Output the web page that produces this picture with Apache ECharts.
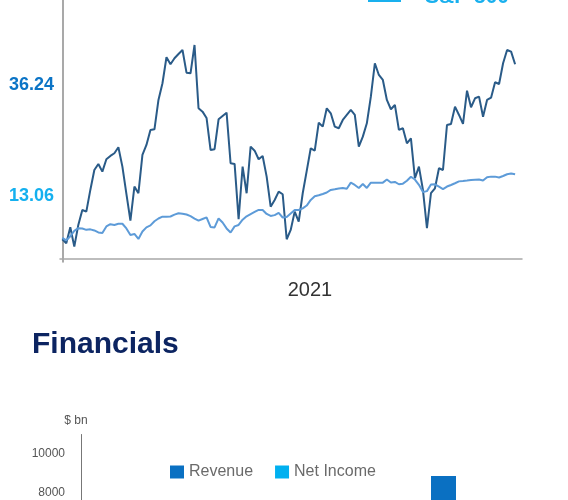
<!DOCTYPE html>
<html>
<head>
<meta charset="utf-8">
<script src="https://cdn.jsdelivr.net/npm/echarts@6/dist/echarts.min.js"></script>
<style>
  html, body { margin: 0; padding: 0; background: #fff; }
  #chart { width: 568px; height: 500px; }
</style>
</head>
<body>
<div id="chart"></div>
<script>
// ---- Line chart data (one value per period, same periods for both series) ----
const stockPrice = [
  4.03, 3.20, 6.54, 2.49, 7.02, 10.15, 9.80, 14.33, 18.50, 19.76,
  18.15, 20.74, 21.43, 21.99, 23.24, 19.19, 13.49, 7.92, 15.02, 13.64,
  21.64, 23.72, 26.86, 27.00, 33.12, 36.61, 42.04, 40.57, 41.83, 42.72,
  43.56, 38.82, 38.69, 44.60, 31.39, 30.68, 29.36, 22.68, 22.83, 29.09,
  29.78, 30.47, 19.90, 19.76, 8.21, 19.19, 13.64, 23.37, 22.53, 20.74,
  21.43, 17.11, 10.84, 12.24, 13.97, 13.43, 4.03, 5.98, 9.80, 7.71,
  13.64, 18.30, 23.03, 22.53, 28.38, 27.55, 31.39, 30.34, 27.55, 27.21,
  28.94, 29.99, 31.03, 29.99, 23.37, 25.46, 28.25, 33.81, 40.78, 38.34,
  37.30, 33.12, 31.18, 32.08, 26.86, 27.21, 24.08, 25.12, 16.77, 19.19,
  14.33, 6.33, 13.64, 14.68, 18.86, 18.50, 27.90, 28.11, 31.72, 29.99,
  28.11, 35.06, 31.60, 33.47, 33.81, 29.63, 33.12, 33.60, 36.82, 36.46,
  40.78, 43.56, 43.21, 40.57
];
const sp500 = [
  4.33, 3.80, 4.66, 5.77, 6.35, 6.29, 6.00, 6.10, 5.87, 5.45,
  5.35, 6.71, 7.17, 7.02, 7.27, 7.27, 6.29, 4.93, 5.14, 4.10,
  5.66, 6.52, 6.92, 7.79, 8.36, 8.75, 8.75, 8.79, 9.17, 9.46,
  9.36, 9.19, 8.86, 8.36, 7.92, 8.27, 8.59, 6.60, 6.50, 8.38,
  7.52, 6.29, 5.45, 6.71, 7.02, 8.11, 8.82, 9.28, 9.73, 10.15,
  10.15, 9.32, 8.90, 9.07, 9.53, 8.57, 8.69, 9.42, 10.15, 10.15,
  10.47, 11.07, 12.24, 13.01, 13.22, 13.49, 13.79, 14.33, 14.47, 14.64,
  14.75, 14.58, 15.85, 15.37, 14.75, 15.58, 14.75, 15.85, 15.85, 15.85,
  15.85, 16.50, 15.87, 16.00, 15.52, 15.64, 16.25, 17.08, 16.50, 15.41,
  13.91, 14.08, 15.46, 15.50, 15.00, 14.50, 15.04, 15.37, 15.73, 16.12,
  16.21, 16.31, 16.42, 16.48, 16.52, 16.29, 16.98, 17.11, 17.11, 16.94,
  17.25, 17.61, 17.77, 17.61
];
const yTickValues = [13.06, 36.24];
const yearLabel = '2021';
const yearLabelPeriod = 61.8;

// ---- Bar chart data ----
const finYears = ['2018', '2019', '2020', '2021'];
const revenue = [6300, 6900, 7300, 8870];
const netIncome = [1100, 1300, 1200, 1900];
const barTicks = [0, 2000, 4000, 6000, 8000, 10000];

const FONT = '"Liberation Sans", Arial, Helvetica, sans-serif';
const chart = echarts.init(document.getElementById('chart'), null, { renderer: 'canvas' });

const option = {
  animation: false,
  backgroundColor: '#ffffff',
  textStyle: { fontFamily: FONT },
  title: {
    text: 'Financials',
    left: 32,
    top: 330,
    padding: 0,
    textStyle: { fontFamily: FONT, fontSize: 30, fontWeight: 'bold', color: '#0c2461' }
  },
  legend: [
    {
      data: ['S&P 500'],
      left: 368,
      top: -13,
      padding: 0,
      icon: 'rect',
      itemWidth: 33,
      itemHeight: 2,
      formatter: '{t|{name}}',
      textStyle: {
        fontFamily: FONT, fontSize: 21, fontWeight: 'bold', color: '#19b0ee',
        rich: {
          t: { fontFamily: FONT, fontSize: 21, fontWeight: 'bold', color: '#19b0ee', padding: [0, 0, 7, 19] }
        }
      }
    },
    {
      data: ['Revenue', 'Net Income'],
      left: 170,
      top: 464,
      padding: 0,
      icon: 'rect',
      itemWidth: 14,
      itemHeight: 13,
      itemGap: 22,
      textStyle: { fontFamily: FONT, fontSize: 16, color: '#6a6a6a' }
    }
  ],
  grid: [
    { left: 60, top: 0, width: 462, height: 262, outerBoundsMode: 'none', containLabel: false },
    { left: 81, top: 434.5, width: 441, height: 214.5, outerBoundsMode: 'none', containLabel: false }
  ],
  xAxis: [
    {
      gridIndex: 0,
      type: 'value',
      min: -0.57,
      max: 114.72,
      axisLine: { show: true, lineStyle: { color: '#a8a8a8', width: 1.5 } },
      axisTick: { show: false },
      splitLine: { show: false },
      axisLabel: {
        customValues: [yearLabelPeriod],
        formatter: () => yearLabel,
        margin: 18,
        fontSize: 20,
        color: '#333333',
        fontFamily: FONT
      }
    },
    {
      gridIndex: 1,
      type: 'category',
      data: finYears,
      axisLine: { lineStyle: { color: '#888' } },
      axisTick: { show: false },
      axisLabel: { color: '#666', fontSize: 12 }
    }
  ],
  yAxis: [
    {
      gridIndex: 0,
      type: 'value',
      min: -0.72,
      max: 54,
      axisLine: { show: true, lineStyle: { color: '#8c8c8c', width: 1.5 } },
      axisTick: { show: false },
      splitLine: { show: false },
      axisLabel: {
        customValues: yTickValues,
        margin: 6,
        formatter: (v) => (v === yTickValues[0] ? '{b|' + v.toFixed(2) + '}' : '{a|' + v.toFixed(2) + '}'),
        rich: {
          a: { fontFamily: FONT, fontSize: 18, fontWeight: 'bold', color: '#0b74c6' },
          b: { fontFamily: FONT, fontSize: 18, fontWeight: 'bold', color: '#14b0ef' }
        }
      }
    },
    {
      gridIndex: 1,
      type: 'value',
      min: 0,
      max: 11000,
      name: '$ bn',
      nameLocation: 'end',
      nameGap: 8,
      nameTextStyle: { fontFamily: FONT, fontSize: 12, color: '#555555', align: 'center', padding: [0, 10, 0, 0] },
      axisLine: { show: true, lineStyle: { color: '#777777', width: 1 } },
      axisTick: { show: false },
      splitLine: { show: false },
      axisLabel: {
        customValues: barTicks,
        formatter: (v) => String(v),
        margin: 16,
        fontSize: 12,
        color: '#555555',
        fontFamily: FONT
      }
    }
  ],
  series: [
    {
      name: 'Share price',
      type: 'line',
      xAxisIndex: 0,
      yAxisIndex: 0,
      data: stockPrice.map((v, i) => [i, v]),
      showSymbol: false,
      symbol: 'none',
      lineStyle: { color: '#2a5b88', width: 2 },
      itemStyle: { color: '#2a5b88' },
      z: 2
    },
    {
      name: 'S&P 500',
      type: 'line',
      xAxisIndex: 0,
      yAxisIndex: 0,
      data: sp500.map((v, i) => [i, v]),
      showSymbol: false,
      symbol: 'none',
      lineStyle: { color: '#5d9bd8', width: 2 },
      itemStyle: { color: '#19b0ee' },
      z: 3
    },
    {
      name: 'Revenue',
      type: 'bar',
      xAxisIndex: 1,
      yAxisIndex: 1,
      data: revenue,
      barWidth: 25,
      barGap: '87%',
      itemStyle: { color: '#0a70c2' }
    },
    {
      name: 'Net Income',
      type: 'bar',
      xAxisIndex: 1,
      yAxisIndex: 1,
      data: netIncome,
      barWidth: 25,
      itemStyle: { color: '#00b0f0' }
    }
  ]
};
chart.setOption(option);
</script>
</body>
</html>
